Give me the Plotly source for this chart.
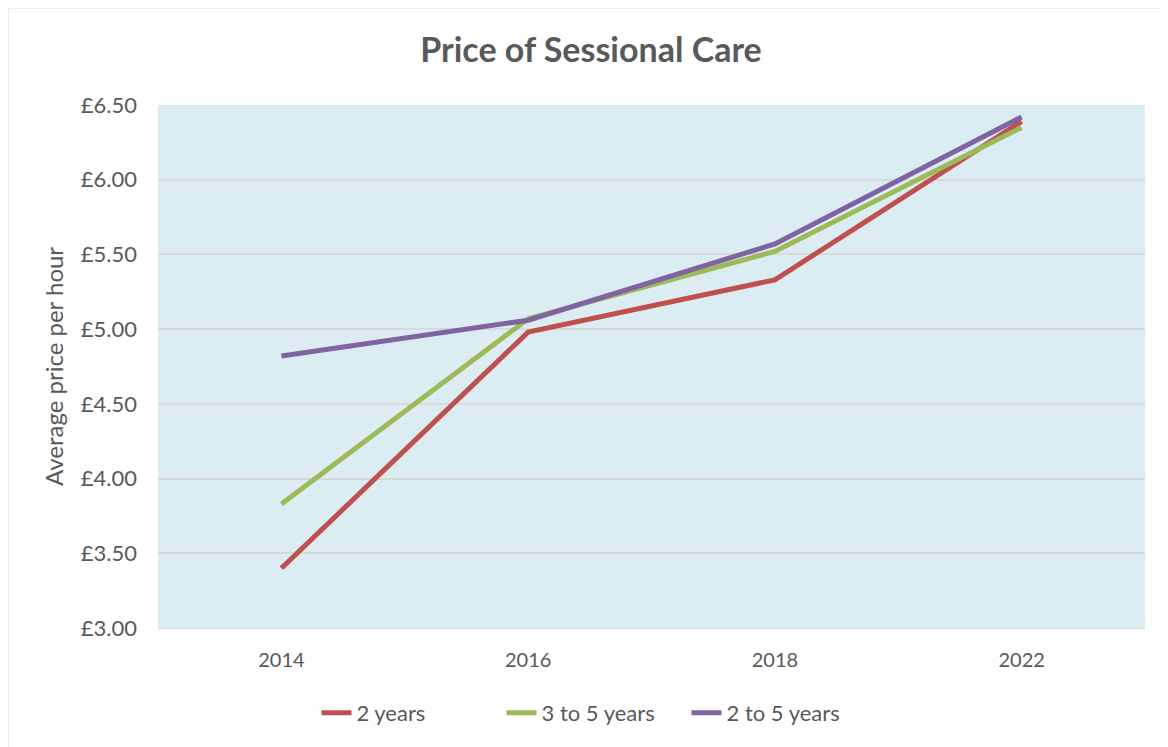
import plotly.graph_objects as go

years = ["2014", "2016", "2018", "2022"]
two_years = [3.40, 4.98, 5.33, 6.39]
three_to_five = [3.83, 5.07, 5.52, 6.35]
two_to_five = [4.82, 5.06, 5.57, 6.42]
y_ticks = [3.0, 3.5, 4.0, 4.5, 5.0, 5.5, 6.0, 6.5]
y_labels = ["£3.00", "£3.50", "£4.00", "£4.50", "£5.00", "£5.50", "£6.00", "£6.50"]

OFF = 8  # default body margin of the html page
W, H = 1168 - OFF, 747 - OFF
L, R, T, B = 158 - OFF, 1145 - OFF, 105 - OFF, 628 - OFF

font = "Lato, 'Open Sans', sans-serif"
grey = "#595959"

fig = go.Figure()
for name, vals, col in [("2 years", two_years, "#C0504D"),
                        ("3 to 5 years", three_to_five, "#9BBB59"),
                        ("2 to 5 years", two_to_five, "#8064A2")]:
    fig.add_trace(go.Scatter(x=years, y=vals, mode="lines", name=name,
                             line=dict(color=col, width=5)))

def px(x):
    return (x - OFF - L) / (R - L)

def py(y):
    return (B - (y - OFF)) / (B - T)

fig.update_layout(
    width=W, height=H,
    margin=dict(l=L, r=W - R, t=T, b=H - B),
    paper_bgcolor="white",
    plot_bgcolor="#DBEDF3",
    title=dict(text="<b>Price of Sessional Care</b>", x=px(591), xanchor="center", xref="paper",
               y=1 - (50 - OFF) / H, yanchor="middle",
               font=dict(family=font, size=34, color=grey)),
    xaxis=dict(type="category", range=[-0.5, 3.5], showgrid=False,
               showline=True, linecolor="#D9D9D9", linewidth=1, ticks="",
               ticklabelstandoff=14,
               tickfont=dict(family=font, size=20, color=grey)),
    yaxis=dict(range=[3.0, 6.5], tickvals=y_ticks, ticktext=y_labels,
               showgrid=True, gridcolor="#D9D9D9", gridwidth=2, zeroline=False,
               ticklabelstandoff=20,
               tickfont=dict(family=font, size=22, color=grey),
               title=dict(text="Average price per hour", standoff=10,
                          font=dict(family=font, size=24, color=grey))),
    legend=dict(orientation="h", x=px(594), xanchor="center", y=py(713), yanchor="middle",
                font=dict(family=font, size=22, color=grey),
                entrywidth=140, entrywidthmode="pixels",
                bgcolor="rgba(0,0,0,0)"),
    showlegend=True,
    shapes=[
        dict(type="line", xref="paper", yref="paper",
             x0=px(7.5), x1=px(7.5), y0=py(760), y1=py(7.5),
             line=dict(color="#D9D9D9", width=2), layer="below"),
        dict(type="line", xref="paper", yref="paper",
             x0=px(7.5), x1=px(1180), y0=py(7.5), y1=py(7.5),
             line=dict(color="#D9D9D9", width=2), layer="below"),
    ],
)

fig.write_html("out.html")
